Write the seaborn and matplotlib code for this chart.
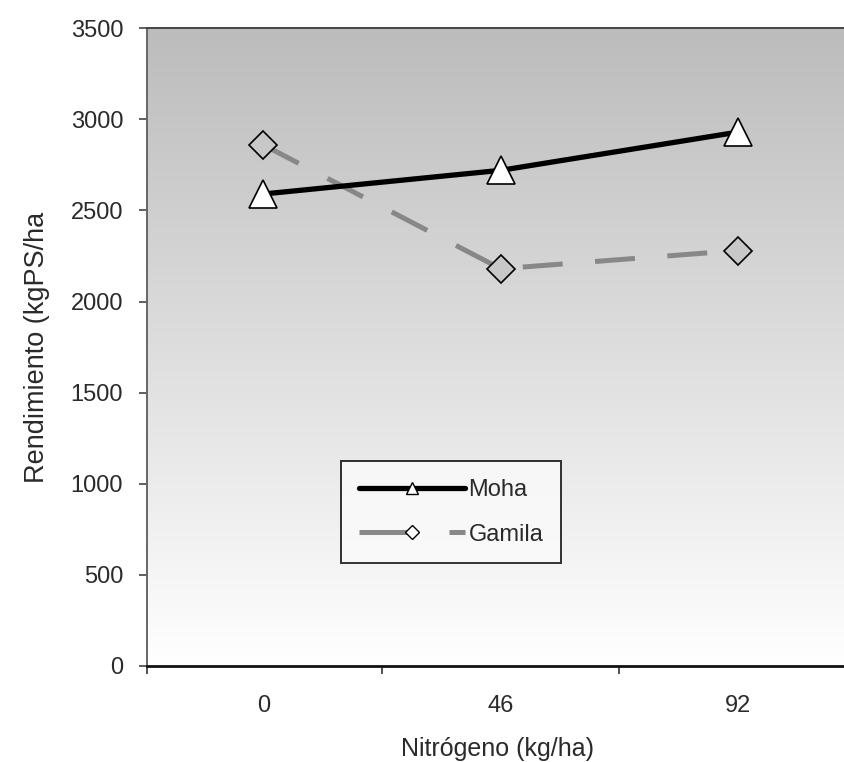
import numpy as np
import pandas as pd
import matplotlib
matplotlib.use("Agg")
import matplotlib.pyplot as plt
import seaborn as sns
from matplotlib.lines import Line2D

categories = ["0", "46", "92"]
moha = [2590, 2720, 2930]
gamila = [2860, 2180, 2280]
yticks = [0, 500, 1000, 1500, 2000, 2500, 3000, 3500]

sns.set_style("white")
plt.rcParams['font.family'] = ['Liberation Sans', 'DejaVu Sans']

fig = plt.figure(figsize=(8.44, 7.62), dpi=100)
ax = fig.add_axes([0.174, 0.126, 0.83, 0.837])

# gradient background
grad = np.linspace(1, 0, 256).reshape(-1, 1)
cmap = matplotlib.colors.LinearSegmentedColormap.from_list("g", ["#ffffff", "#bcbcbc"])
ax.imshow(grad, extent=[0, 1, 0, 1], transform=ax.transAxes, aspect='auto',
          cmap=cmap, origin='upper', zorder=0)
ax.patch.set_alpha(0)

df = pd.DataFrame({"x": categories * 2,
                   "y": moha + gamila,
                   "serie": ["Moha"] * 3 + ["Gamila"] * 3})

sns.lineplot(data=df[df.serie == "Moha"], x="x", y="y", ax=ax, color="black",
             linewidth=3.8, marker="^", markersize=20, markerfacecolor="white",
             markeredgecolor="black", markeredgewidth=1.2, zorder=3, legend=False)
sns.lineplot(data=df[df.serie == "Gamila"], x="x", y="y", ax=ax, color="#888888",
             linewidth=3.6, marker="D", markersize=14, markerfacecolor="#c8c8c8",
             markeredgecolor="black", markeredgewidth=1.2, zorder=2,
             legend=False)
for l in ax.lines:
    if l.get_marker() == "D":
        l.set_dashes((8, 6.5))

tick_kw = dict(fontsize=17, color="#2a2a2a")
ax.set_xlim(-0.49, 2.46)
ax.set_ylim(0, 3500)
ax.set_yticks(yticks)
ax.set_yticklabels([str(v) for v in yticks], **tick_kw)
ax.set_xticks([-0.49, 0.5, 1.5])
ax.set_xticklabels([])
ax.set_xticks([0, 1, 2], minor=True)
ax.set_xticklabels(categories, minor=True, **tick_kw)
ax.tick_params(bottom=True, left=True)
ax.tick_params(axis='x', which='minor', length=0, pad=21)
ax.tick_params(axis='x', which='major', length=6, width=1.2, direction='out', color='#333333')
ax.tick_params(axis='y', length=6, width=1.2, direction='out', color='#444444', pad=11)
ax.set_xlabel("Nitrógeno (kg/ha)", fontsize=18, color="#2a2a2a", labelpad=14)
ax.set_ylabel("Rendimiento (kgPS/ha", fontsize=19.5, color="#2a2a2a", labelpad=15)

ax.spines["left"].set_color("#666666")
ax.spines["left"].set_linewidth(1.4)
ax.spines["bottom"].set_color("#111111")
ax.spines["bottom"].set_linewidth(2)
ax.spines["top"].set_color("#444444")
ax.spines["top"].set_linewidth(1.4)
ax.spines["right"].set_visible(False)

handles = [
    Line2D([], [], color="black", linewidth=3.8, marker="^", markersize=9,
           markerfacecolor="white", markeredgecolor="black"),
    Line2D([], [], color="#888888", linewidth=3.6, marker="D", markersize=7,
           markerfacecolor="white", markeredgecolor="black", dashes=(10, 8)),
]
leg = ax.legend(handles, ["Moha", "Gamila"], loc="lower left",
                bbox_to_anchor=(0.277, 0.161), fontsize=17, frameon=True,
                fancybox=False, edgecolor="black", handlelength=4.5,
                handletextpad=0.15, borderpad=0.75, labelspacing=0.95,
                borderaxespad=0)
leg.get_frame().set_linewidth(1.4)
leg.get_frame().set_facecolor("#fbfbfb")
for t in leg.get_texts():
    t.set_color("#2a2a2a")

fig.savefig("out.png", dpi=100)
